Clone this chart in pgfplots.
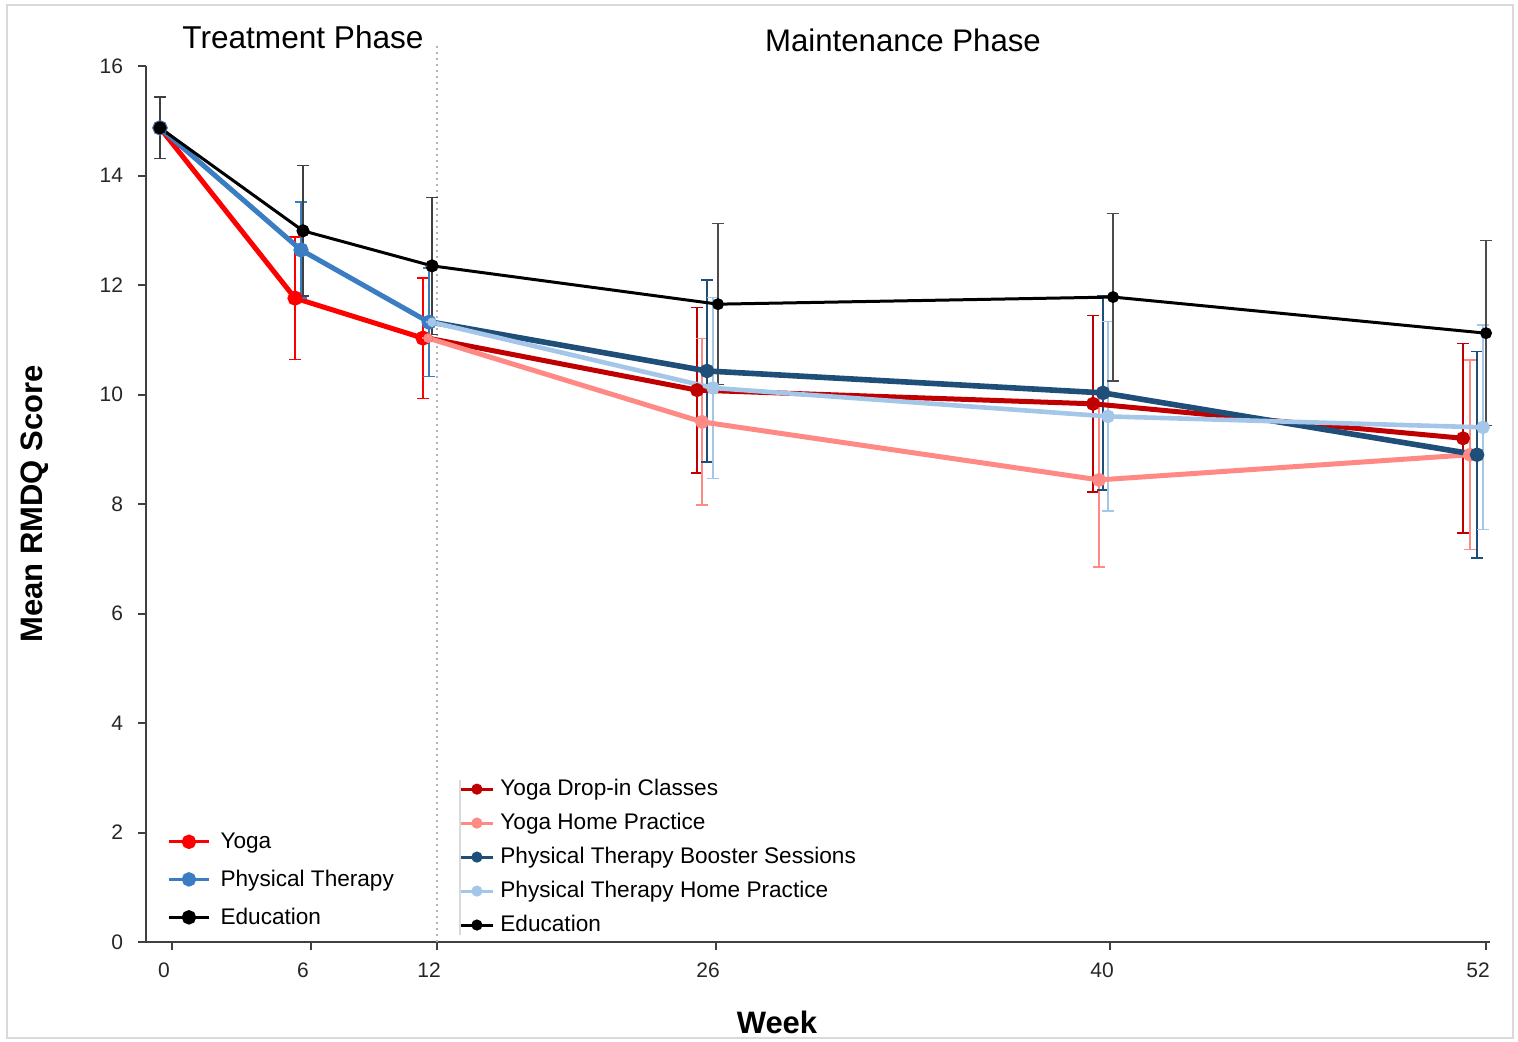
\documentclass[border=0pt]{standalone}
\usepackage{pgfplots}
\pgfplotsset{compat=1.18}
\usepackage{pgfplotstable}
\usepackage{fontspec}
\setmainfont{Liberation Sans}
\definecolor{yred}{HTML}{FF0000}
\definecolor{ptblue}{HTML}{3A7DC2}
\definecolor{ydrop}{HTML}{C00000}
\definecolor{yhome}{HTML}{FF8A85}
\definecolor{ptboost}{HTML}{1F4E79}
\definecolor{pthome}{HTML}{A4C6E8}
\definecolor{axisgray}{HTML}{404040}

% x = horizontal position on the original chart (Excel offsets each series slightly)
\pgfplotstableread{
x y e
160 14.87 0.56
295 11.76 1.12
423 11.03 1.10
}\yoga
\pgfplotstableread{
x y e
160 14.87 0.56
301 12.64 0.88
429 11.32 0.99
}\pt
\pgfplotstableread{
x y e
160 14.87 0.56
303 12.99 1.19
432 12.35 1.25
}\eduA
\pgfplotstableread{
x y e
428 11.03 0
697 10.08 1.51
1093 9.83 1.61
1463 9.20 1.73
}\ydrop
\pgfplotstableread{
x y e
428 11.03 0
702 9.50 1.52
1099 8.44 1.59
1470 8.90 1.73
}\yhome
\pgfplotstableread{
x y e
432 11.32 0
707 10.43 1.66
1103 10.03 1.77
1477 8.90 1.89
}\ptboost
\pgfplotstableread{
x y e
432 11.32 0
713 10.12 1.65
1108 9.60 1.73
1483 9.40 1.87
}\pthome
\pgfplotstableread{
x y e
432 12.35 0
718 11.65 1.47
1113 11.78 1.53
1486 11.12 1.69
}\eduB

\begin{document}
\begin{tikzpicture}
\pgfplotsset{
  common/.style={
    at={(0pt,0pt)}, anchor=south west,
    scale only axis, width=672pt, height=438pt,
    xmin=146, xmax=1490, ymin=0, ymax=16,
    clip=false,
    legend cell align=left,
  },
  ebar/.style={error bars/.cd, y dir=both, y explicit,
    error bar style={#1, line width=0.75pt},
    error mark options={rotate=90, #1, mark size=3pt, line width=0.75pt}},
}
\useasboundingbox (-73pt,-49.5pt) rectangle (686pt,471pt);
\draw[black!15, line width=0.8pt] (-69.5pt,-48pt) rectangle (683.5pt,468.5pt);

\begin{axis}[common,
  axis x line=bottom, axis y line=left,
  axis line style={-, axisgray, line width=1pt},
  tick style={axisgray, line width=1pt},
  tick align=outside, major tick length=4pt,
  ytick={0,2,...,16},
  xtick={172,311,437,716,1110,1486},
  xticklabels={0,6,12,26,40,52},
  xticklabel style={xshift=-4pt, yshift=-3pt},
  yticklabel style={xshift=-4pt},
  ticklabel style={font=\fontsize{10.5}{12}\selectfont, text=black!85},
  /pgf/number format/assume math mode=true,
  xlabel={Week}, ylabel={Mean RMDQ Score},
  every axis x label/.style={at={(axis description cs:0.4695,0)}, yshift=-40pt, anchor=center, font=\fontsize{15.5}{17}\selectfont\bfseries},
  every axis y label/.style={at={(axis description cs:0,0.5)}, xshift=-55.5pt, rotate=90, anchor=center, font=\fontsize{15.5}{17}\selectfont\bfseries},
  legend image code/.code={\draw[#1, mark indices={2}] plot coordinates {(0pt,0pt)(10pt,0pt)(20pt,0pt)};},
  legend image post style={line width=1.6pt, mark size=2.8pt},
  legend style={at={(0.0156,0.1300)}, anchor=north west, draw=none, fill=none,
    font=\fontsize{11.3}{13}\selectfont, row sep=5.3pt, column sep=3pt, inner sep=0pt},
]
\draw[black!30, line width=1pt, dash pattern=on 1pt off 2pt] (axis cs:437,0) -- (axis cs:437,16.38);
\node[font=\fontsize{15.8}{18}\selectfont] at (axis cs:303,16.53) {Treatment Phase};
\node[font=\fontsize{15.6}{18}\selectfont] at (axis cs:903,16.47) {Maintenance Phase};

\addplot[yred, line width=2.5pt, mark=*, mark size=2.5pt, ebar=yred] table[x=x,y=y,y error=e] {\yoga};
\addlegendentry{Yoga}
\addplot[ptblue, line width=2.5pt, mark=*, mark size=2.5pt, ebar=ptblue] table[x=x,y=y,y error=e] {\pt};
\addlegendentry{Physical Therapy}
\addplot[black, line width=1.5pt, mark=*, mark size=2.5pt, ebar=black!75] table[x=x,y=y,y error=e] {\eduA};
\addlegendentry{Education}
\end{axis}

\begin{axis}[common, hide axis,
  legend image code/.code={\draw[#1, mark indices={2}] plot coordinates {(0pt,0pt)(8pt,0pt)(16pt,0pt)};},
  legend image post style={line width=1.5pt, mark size=2pt},
  legend style={at={(0.2329,0.1906)}, anchor=north west, draw=none, fill=none,
    font=\fontsize{11.3}{13}\selectfont, row sep=3.3pt, column sep=1pt, inner sep=0pt},
]
\draw[black!15, line width=0.8pt] (axis cs:460,2.96) -- (axis cs:460,0.13);
% error bars (weeks 26, 40, 52)
\addplot[forget plot, only marks, mark=*, mark size=2.2pt, ydrop, ebar=ydrop] table[x=x,y=y,y error=e, skip first n=1] {\ydrop};
\addplot[forget plot, only marks, mark=*, mark size=2.2pt, yhome, ebar=yhome] table[x=x,y=y,y error=e, skip first n=1] {\yhome};
\addplot[forget plot, only marks, mark=*, mark size=2.2pt, ptboost, ebar=ptboost] table[x=x,y=y,y error=e, skip first n=1] {\ptboost};
\addplot[forget plot, only marks, mark=*, mark size=2.2pt, pthome, ebar=pthome] table[x=x,y=y,y error=e, skip first n=1] {\pthome};
\addplot[forget plot, only marks, mark=*, mark size=2.2pt, black, ebar=black!70] table[x=x,y=y,y error=e, skip first n=1] {\eduB};
% lines
\addplot[ydrop, line width=2.5pt, mark=*, mark size=2.2pt, mark indices={2,3,4}] table[x=x,y=y] {\ydrop};
\addlegendentry{Yoga Drop-in Classes}
\addplot[yhome, line width=2.5pt, mark=*, mark size=2.2pt, mark indices={2,3,4}] table[x=x,y=y] {\yhome};
\addlegendentry{Yoga Home Practice}
\addplot[ptboost, line width=2.8pt, mark=*, mark size=2.2pt, mark indices={2,3,4}] table[x=x,y=y] {\ptboost};
\addlegendentry{Physical Therapy Booster Sessions}
\addplot[pthome, line width=2.3pt, mark=*, mark size=2.2pt, mark indices={2,3,4}] table[x=x,y=y] {\pthome};
\addlegendentry{Physical Therapy Home Practice}
\addplot[black, line width=1.5pt, mark=*, mark size=2.2pt, mark indices={2,3,4}] table[x=x,y=y] {\eduB};
\addlegendentry{Education}
\end{axis}
\end{tikzpicture}
\end{document}
